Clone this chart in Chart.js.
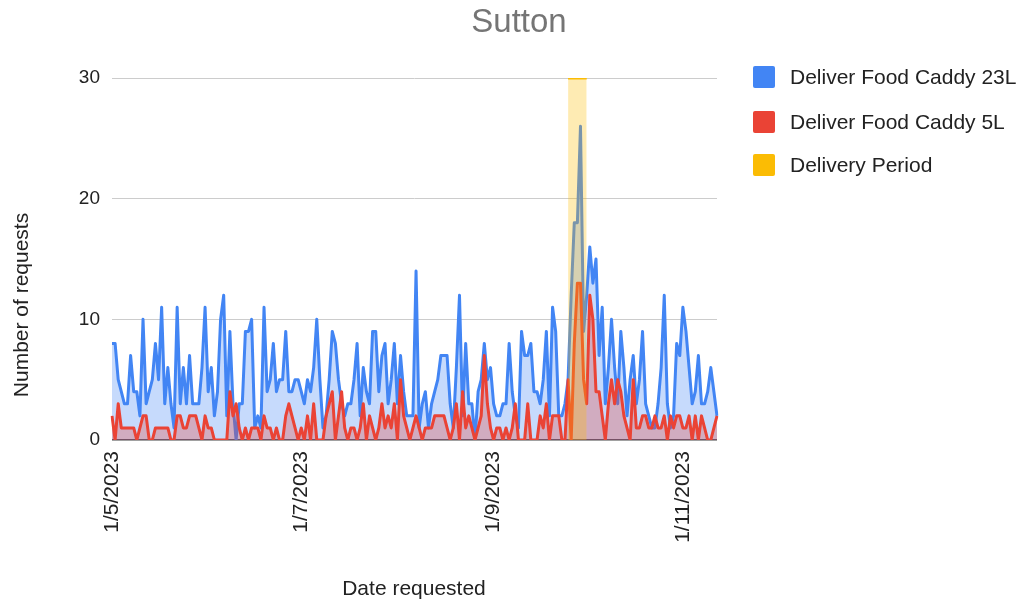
<!DOCTYPE html>
<html>
<head>
<meta charset="utf-8">
<script src="https://cdn.jsdelivr.net/npm/chart.js@4.4.0/dist/chart.umd.min.js"></script>
<style>
  html, body { margin: 0; padding: 0; background: #fff; }
</style>
</head>
<body>
<canvas id="myChart" width="1026" height="604"></canvas>
<script>
// Daily requests, 1 May 2023 - 12 Nov 2023
const caddy23L = [
  8, 8, 5, 4, 3, 3, 7, 4, 4, 2,
  10, 3, 4, 5, 8, 5, 11, 3, 6, 3,
  1, 11, 3, 6, 3, 7, 3, 3, 3, 6,
  11, 4, 6, 2, 4, 10, 12, 2, 9, 3,
  0, 3, 3, 9, 9, 10, 1, 2, 1, 11,
  4, 5, 8, 4, 5, 5, 9, 4, 4, 5,
  5, 4, 3, 5, 4, 6, 10, 5, 1, 2,
  5, 9, 8, 5, 3, 2, 3, 3, 5, 8,
  2, 6, 4, 3, 9, 9, 4, 7, 8, 3,
  5, 8, 3, 7, 4, 2, 2, 2, 14, 1,
  3, 4, 1, 3, 4, 5, 7, 7, 7, 3,
  1, 6, 12, 2, 8, 3, 3, 0, 4, 5,
  8, 5, 6, 3, 2, 2, 3, 3, 8, 4,
  2, 1, 9, 7, 7, 8, 4, 4, 3, 5,
  9, 2, 11, 9, 2, 2, 3, 5, 12, 18,
  18, 26, 9, 12, 16, 13, 15, 7, 11, 3,
  6, 10, 6, 3, 9, 6, 2, 5, 7, 3,
  5, 9, 3, 2, 1, 1, 3, 6, 12, 3,
  1, 2, 8, 7, 11, 9, 6, 3, 4, 7,
  3, 3, 4, 6, 4, 2
];
const caddy5L = [
  2, 0, 3, 1, 1, 1, 1, 1, 0, 1,
  2, 2, 0, 0, 1, 1, 1, 1, 1, 0,
  0, 2, 2, 1, 1, 2, 2, 2, 1, 0,
  2, 1, 1, 0, 0, 0, 0, 0, 4, 2,
  3, 1, 0, 1, 0, 1, 1, 1, 0, 2,
  1, 1, 0, 1, 0, 0, 2, 3, 2, 1,
  0, 1, 0, 2, 0, 3, 0, 0, 0, 2,
  3, 4, 0, 2, 4, 1, 0, 1, 1, 0,
  1, 3, 0, 2, 1, 0, 1, 3, 1, 2,
  1, 3, 0, 5, 2, 1, 0, 1, 2, 1,
  0, 1, 1, 1, 2, 2, 2, 2, 1, 0,
  1, 3, 0, 4, 1, 2, 1, 0, 1, 2,
  7, 3, 1, 0, 1, 1, 0, 1, 0, 1,
  3, 0, 0, 0, 3, 0, 0, 0, 2, 1,
  3, 0, 2, 2, 2, 0, 0, 5, 0, 8,
  13, 13, 5, 3, 12, 10, 4, 4, 2, 0,
  3, 5, 3, 5, 4, 2, 1, 0, 5, 1,
  1, 2, 2, 1, 1, 2, 1, 1, 2, 0,
  2, 1, 2, 2, 1, 1, 2, 0, 2, 0,
  2, 1, 0, 0, 1, 2
];
const deliveryDays = ["25/9/2023", "26/9/2023", "27/9/2023", "28/9/2023", "29/9/2023", "30/9/2023", "1/10/2023"];
const deliveryLevel = 30;
const tickLabels = ["1/5/2023", "1/7/2023", "1/9/2023", "1/11/2023"];
const seriesNames = ["Deliver Food Caddy 23L", "Deliver Food Caddy 5L", "Delivery Period"];
const seriesColors = ["#4285F4", "#EA4335", "#FBBC04"];

// Build the date categories (d/m/yyyy) starting 1 May 2023
const dates = [];
for (let i = 0; i < caddy23L.length; i++) {
  const d = new Date(2023, 4, 1 + i);
  dates.push(d.getDate() + "/" + (d.getMonth() + 1) + "/" + d.getFullYear());
}
const delivery = dates.map(d => deliveryDays.includes(d) ? deliveryLevel : null);

const FONT = '"Liberation Sans", Arial, sans-serif';

// Title, axis titles and legend drawn in Google Sheets positions
const sheetText = {
  id: 'sheetText',
  afterDraw(chart) {
    const ctx = chart.ctx;
    ctx.save();
    ctx.textAlign = 'center';
    ctx.textBaseline = 'middle';
    ctx.fillStyle = '#757575';
    ctx.font = '33px ' + FONT;
    ctx.fillText("Sutton", 519, 23);

    ctx.fillStyle = '#222222';
    ctx.font = '21px ' + FONT;
    ctx.fillText("Date requested", 414, 589);
    ctx.save();
    ctx.translate(22, 305);
    ctx.rotate(-Math.PI / 2);
    ctx.fillText("Number of requests", 0, 0);
    ctx.restore();

    // legend
    const rows = [77, 122, 165];
    ctx.textAlign = 'left';
    seriesNames.forEach((name, i) => {
      ctx.fillStyle = seriesColors[i];
      ctx.beginPath();
      ctx.roundRect(753, rows[i] - 11, 22, 22, 2);
      ctx.fill();
      ctx.fillStyle = '#222222';
      ctx.fillText(name, 790, rows[i] + 1);
    });
    ctx.restore();
  }
};

new Chart("myChart", {
  type: "line",
  data: {
    labels: dates,
    datasets: [{
      label: seriesNames[0],
      data: caddy23L,
      borderColor: seriesColors[0],
      backgroundColor: "rgba(66,133,244,0.3)",
      borderWidth: 3,
      fill: 'origin',
      order: 3
    }, {
      label: seriesNames[1],
      data: caddy5L,
      borderColor: seriesColors[1],
      backgroundColor: "rgba(234,67,53,0.3)",
      borderWidth: 3,
      fill: 'origin',
      order: 2
    }, {
      label: seriesNames[2],
      data: delivery,
      borderColor: seriesColors[2],
      backgroundColor: "rgba(251,188,4,0.3)",
      borderWidth: 3,
      fill: 'origin',
      spanGaps: false,
      order: 1
    }]
  },
  options: {
    responsive: false,
    animation: false,
    devicePixelRatio: 1,
    layout: { padding: { top: 78, right: 309, bottom: 0, left: 0 } },
    elements: {
      point: { radius: 0, hoverRadius: 0 },
      line: { tension: 0, borderJoinStyle: 'round' }
    },
    plugins: {
      legend: { display: false },
      title: { display: false },
      tooltip: { enabled: false }
    },
    scales: {
      x: {
        offset: false,
        grid: { display: false },
        border: { display: false },
        afterFit(scale) { scale.height = 164; },
        ticks: {
          autoSkip: false,
          minRotation: 90,
          maxRotation: 90,
          padding: 3,
          color: '#222222',
          font: { family: FONT, size: 21 },
          callback(value) {
            const lab = this.getLabelForValue(value);
            return tickLabels.includes(lab) ? lab : null;
          }
        }
      },
      y: {
        min: 0,
        max: 30,
        afterFit(scale) { scale.width = 112; },
        border: { display: false },
        grid: {
          drawTicks: false,
          color: ctx => ctx.tick.value === 0 ? '#444444' : '#cccccc',
          lineWidth: ctx => ctx.tick.value === 0 ? 1.5 : 1
        },
        ticks: {
          stepSize: 10,
          padding: 12,
          color: '#222222',
          font: { family: FONT, size: 19 }
        }
      }
    }
  },
  plugins: [sheetText]
});
</script>
</body>
</html>
